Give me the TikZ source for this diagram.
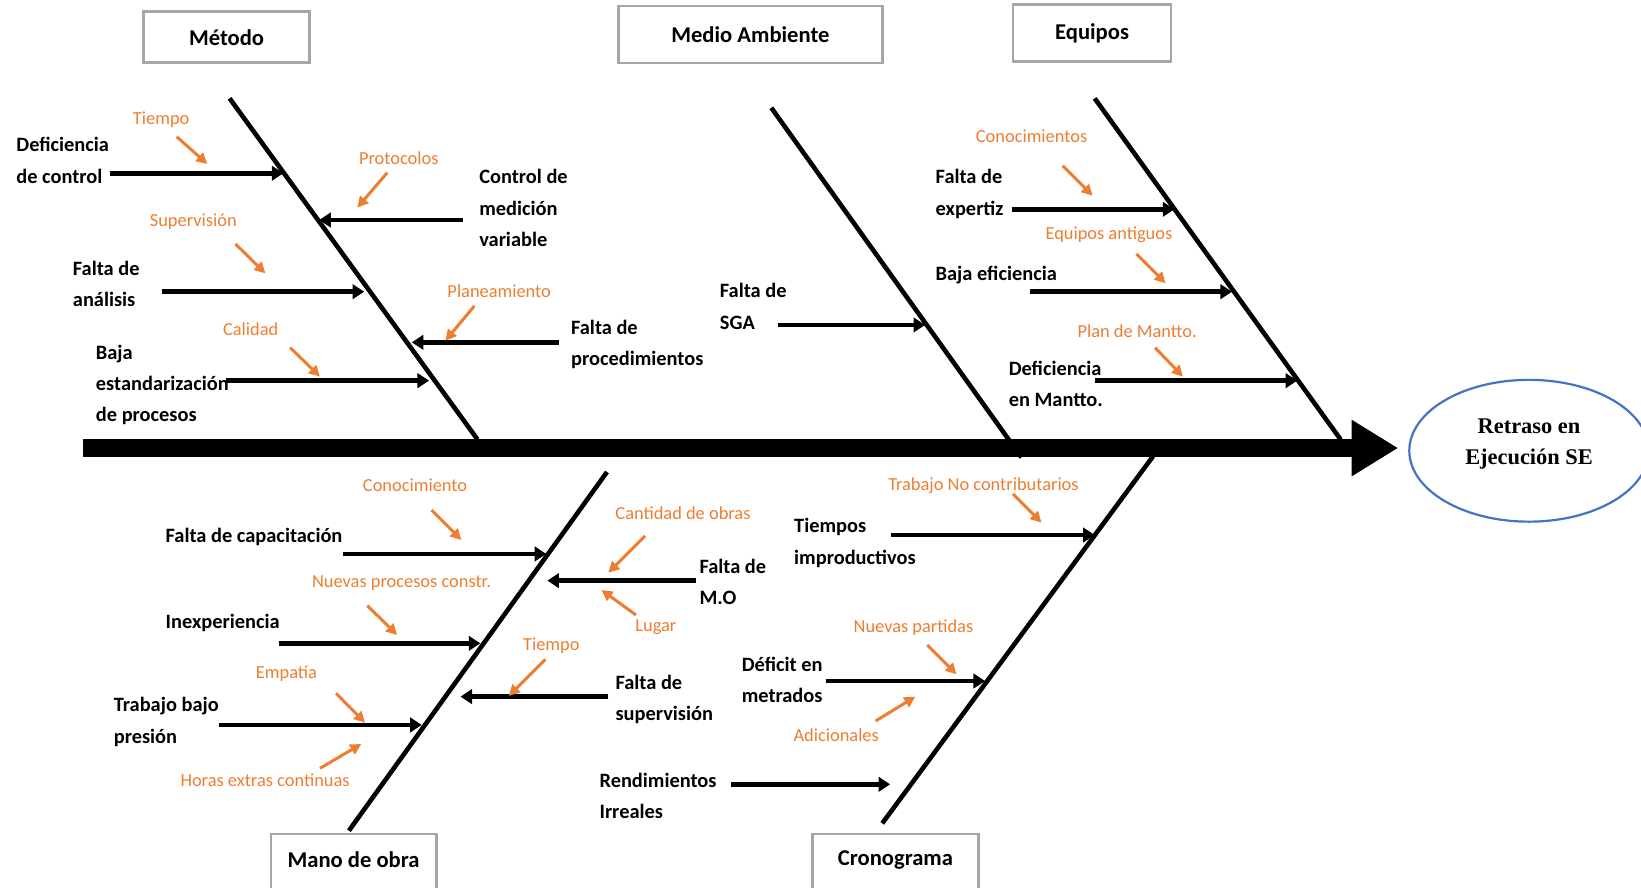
\documentclass[tikz,border=0pt]{standalone}
\usepackage{fontspec}
\setmainfont{Carlito}
\newfontfamily\tnrfont{Liberation Serif}
\usetikzlibrary{arrows.meta,shapes.geometric}
\definecolor{orng}{HTML}{ED7D31}
\definecolor{effblue}{HTML}{4472C4}
\definecolor{boxgray}{HTML}{A6A6A6}
\newlength{\uu}\setlength{\uu}{0.5233pt}
\begin{document}
\begin{tikzpicture}[x=0.5233pt, y=-0.5233pt,
  lab/.style={font=\bfseries\fontsize{10.2}{15.7}\selectfont, align=left, inner sep=0pt, anchor=west},
  sub/.style={font=\fontsize{9.2}{11}\selectfont, text=orng, inner sep=0pt},
  catbox/.style={draw=boxgray, line width=1.3pt, fill=white, inner sep=0pt, font=\bfseries\fontsize{11.3}{13}\selectfont},
  cattext/.style={inner sep=0pt, font=\bfseries\fontsize{11.3}{13}\selectfont},
  efftext/.style={inner sep=0pt, align=center, font=\tnrfont\bfseries\fontsize{11.2}{15.7}\selectfont},
  bone/.style={line width=2.3pt},
  spine/.style={line width=8.6pt, -{Triangle[length=23.3pt,width=26.6pt]}, shorten >=5pt},
  cause/.style={line width=2.4pt, -{Triangle[length=5.8pt,width=7.2pt]}},
  subarrow/.style={draw=orng, line width=1.5pt, -{Triangle[length=5.5pt,width=5.5pt]}}]
\useasboundingbox (0,0) rectangle (1568,848);
\clip (0,0) rectangle (1568,848);

% effect
\node[ellipse, draw=effblue, line width=1.1pt, minimum width=228.8\uu, minimum height=135.5\uu, inner sep=0pt] (eff) at (1461,430.7) {};
\node[efftext] (efft) at (1461,424.5) {Retraso en\\Ejecución SE};

% bones
\draw[bone] (219.4,94) coordinate (mT) -- (456.2,419.8) coordinate (mB);
\draw[bone] (737,103) coordinate (aT) -- (976,437) coordinate (aB);
\draw[bone] (1046,94) coordinate (eT) -- (1281,420) coordinate (eB);
\draw[bone] (580,451) coordinate (moT) -- (333.4,793.7) coordinate (moB);
\draw[bone] (1101.7,436) coordinate (cT) -- (843,786.7) coordinate (cB);

% spine
\coordinate (spL) at (79,428.1);
\draw[spine] (spL) -- (spL -| eff.west);

% category boxes
\node[catbox, minimum width=159\uu, minimum height=48.8\uu] (bm) at (216.5,35.6) {Método};
\node[catbox, minimum width=252\uu, minimum height=54.3\uu] (bma) at (717,32.9) {Medio Ambiente};
\node[catbox, minimum width=151\uu, minimum height=54.1\uu] (be) at (1043.5,31.5) {Equipos};
\node[catbox, anchor=north, minimum width=158\uu, minimum height=90\uu] (bmo) at (337.8,795.6) {};
\node[cattext] (tmo) at (337.8,821.7) {Mano de obra};
\node[catbox, anchor=north, minimum width=158.7\uu, minimum height=90\uu] (bc) at (855.6,795.6) {};
\node[cattext] (tc) at (855.6,821.7) {Cronograma};

% cause labels
\node[lab] (l1) at (15.3,153.4) {Deficiencia\\de control};
\node[lab] (l2) at (457.6,198.8) {Control de\\medición\\variable};
\node[lab] (l3) at (69.3,271.2) {Falta de\\análisis};
\node[lab] (l4) at (545.3,328.9) {Falta de\\procedimientos};
\node[lab] (l5) at (91.3,367.9) {Baja\\estandarización\\de procesos};
\node[lab] (l6) at (687.5,292.7) {Falta de\\SGA};
\node[lab] (l7) at (893.7,185.2) {Falta de\\expertiz};
\node[lab] (l8) at (893.7,262.8) {Baja eficiencia};
\node[lab] (l9) at (963.5,366.7) {Deficiencia\\en Mantto.};
\node[lab] (l10) at (157.9,513.4) {Falta de capacitación};
\node[lab] (l11) at (157.9,595.6) {Inexperiencia};
\node[lab] (l12) at (108.4,690) {Trabajo bajo\\presión};
\node[lab] (l13) at (668,556) {Falta de\\M.O};
\node[lab] (l14) at (587.8,668.5) {Falta de\\supervisión};
\node[lab] (l15) at (572.5,760.7) {Rendimientos\\Irreales};
\node[lab] (l16) at (758.5,518.7) {Tiempos\\improductivos};
\node[lab] (l17) at (708.4,649.7) {Déficit en\\metrados};

% cause arrows
\draw[cause] (105.1,165.6) coordinate (a1s) -- (270.8,165.6) coordinate (a1e);
\draw[cause] (442.7,210.2) coordinate (a2s) -- (305,210.2) coordinate (a2e);
\draw[cause] (154.4,278.7) coordinate (a3s) -- (348,278.7) coordinate (a3e);
\draw[cause] (534.3,327.1) coordinate (a4s) -- (393.5,327.1) coordinate (a4e);
\draw[cause] (215.8,363.7) coordinate (a5s) -- (410,363.7) coordinate (a5e);
\draw[cause] (743.4,310.5) coordinate (a6s) -- (884,310.5) coordinate (a6e);
\draw[cause] (966.7,200) coordinate (a7s) -- (1122.1,200) coordinate (a7e);
\draw[cause] (984.4,278.7) coordinate (a8s) -- (1177.2,278.7) coordinate (a8e);
\draw[cause] (1046,363.7) coordinate (a9s) -- (1239.5,363.7) coordinate (a9e);
\draw[cause] (328.1,529.3) coordinate (a10s) -- (522,529.3) coordinate (a10e);
\draw[cause] (266.3,614.7) coordinate (a11s) -- (459,614.7) coordinate (a11e);
\draw[cause] (209.7,692.7) coordinate (a12s) -- (403,692.7) coordinate (a12e);
\draw[cause] (665.3,554.8) coordinate (a13s) -- (523,554.8) coordinate (a13e);
\draw[cause] (581.3,665.6) coordinate (a14s) -- (440,665.6) coordinate (a14e);
\draw[cause] (698.9,749.4) coordinate (a15s) -- (850.5,749.4) coordinate (a15e);
\draw[cause] (851.1,511.2) coordinate (a16s) -- (1046,511.2) coordinate (a16e);
\draw[cause] (789,650.7) coordinate (a17s) -- (941.2,650.7) coordinate (a17e);

% sub-cause labels
\node[sub] (s1) at (154,114) {Tiempo};
\node[sub] (s2) at (381,151.3) {Protocolos};
\node[sub] (s3) at (184.7,211.8) {Supervisión};
\node[sub] (s4) at (477,278) {Planeamiento};
\node[sub] (s5) at (239.5,314.7) {Calidad};
\node[sub] (s6) at (985.7,130.6) {Conocimientos};
\node[sub] (s7) at (1059.6,224.5) {Equipos antiguos};
\node[sub] (s8) at (1086.6,316.3) {Plan de Mantto.};
\node[sub] (s9) at (396.6,464) {Conocimiento};
\node[sub] (s10) at (383.6,557.4) {Nuevas procesos constr.};
\node[sub] (s11) at (273.7,643.4) {Empatía};
\node[sub] (s12) at (253.3,745.3) {Horas extras continuas};
\node[sub] (s13) at (526.8,616.9) {Tiempo};
\node[sub] (s14) at (626.7,599.4) {Lugar};
\node[sub] (s15) at (652.6,490.5) {Cantidad de obras};
\node[sub] (s16) at (939.7,464) {Trabajo No contributarios};
\node[sub] (s17) at (872.8,599.4) {Nuevas partidas};
\node[sub] (s18) at (799,702.3) {Adicionales};

% sub-cause arrows
\draw[subarrow] (168.8,130.6) coordinate (o1s) -- (198.1,156.7) coordinate (o1e);
\draw[subarrow] (370,165) coordinate (o2s) -- (341.4,198.4) coordinate (o2e);
\draw[subarrow] (225,233.1) coordinate (o3s) -- (253.6,261.2) coordinate (o3e);
\draw[subarrow] (453.2,292.4) coordinate (o4s) -- (425.6,325.5) coordinate (o4e);
\draw[subarrow] (277.3,332.2) coordinate (o5s) -- (305.8,359.9) coordinate (o5e);
\draw[subarrow] (1015.5,158.3) coordinate (o6s) -- (1044,187) coordinate (o6e);
\draw[subarrow] (1085.9,242.7) coordinate (o7s) -- (1113.8,270.7) coordinate (o7e);
\draw[subarrow] (1103.7,332.2) coordinate (o8s) -- (1130.3,359.9) coordinate (o8e);
\draw[subarrow] (412.4,487.3) coordinate (o9s) -- (440.9,516) coordinate (o9e);
\draw[subarrow] (351,578.7) coordinate (o10s) -- (379.5,606.7) coordinate (o10e);
\draw[subarrow] (321.1,662.5) coordinate (o11s) -- (348.8,690.5) coordinate (o11e);
\draw[subarrow] (305.8,734.1) coordinate (o12s) -- (345.2,710.9) coordinate (o12e);
\draw[subarrow] (521.2,630) coordinate (o13s) -- (486.1,665) coordinate (o13e);
\draw[subarrow] (607.6,587.6) coordinate (o14s) -- (574.7,563.7) coordinate (o14e);
\draw[subarrow] (616.4,512.1) coordinate (o15s) -- (581.3,547.2) coordinate (o15e);
\draw[subarrow] (967.9,472) coordinate (o16s) -- (995.2,499.4) coordinate (o16e);
\draw[subarrow] (886.1,616.3) coordinate (o17s) -- (914,644.3) coordinate (o17e);
\draw[subarrow] (836.6,688.9) coordinate (o18s) -- (874.6,665.7) coordinate (o18e);
\end{tikzpicture}
\end{document}
